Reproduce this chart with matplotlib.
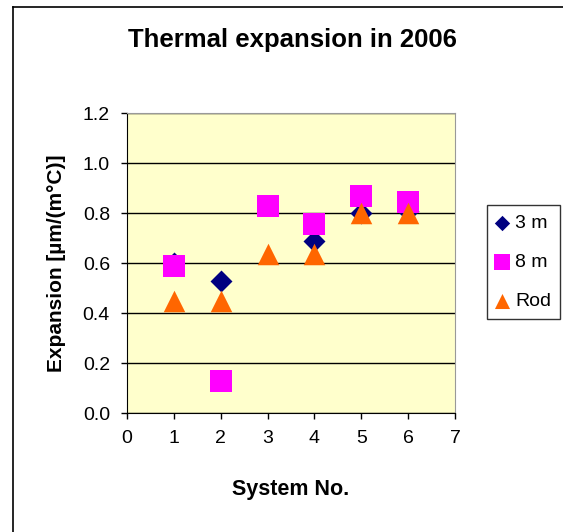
import matplotlib
matplotlib.use("Agg")
import matplotlib.pyplot as plt
from matplotlib.lines import Line2D

plt.rcParams['font.family'] = ['Liberation Sans', 'DejaVu Sans']

# data
systems = [1, 2, 3, 4, 5, 6]
expansion_3m = [0.60, 0.53, None, 0.69, 0.80, 0.81]
expansion_8m = [0.59, 0.13, 0.83, 0.755, 0.87, 0.845]
expansion_rod = [0.45, 0.45, 0.635, 0.635, 0.80, 0.80]
series_names = ['3 m', '8 m', 'Rod']

W, H = 563, 532
fig = plt.figure(figsize=(W / 100, H / 100), dpi=100)

# outer chart border: only left and top edges are inside the picture
fig.add_artist(Line2D([12.5 / W, 12.5 / W], [0, 1 - 7 / H], color='black', lw=1.2,
                      transform=fig.transFigure))
fig.add_artist(Line2D([12.5 / W, 1], [1 - 7 / H, 1 - 7 / H], color='black', lw=1.2,
                      transform=fig.transFigure))

ax = fig.add_axes([127 / W, 1 - 413 / H, (455 - 127) / W, (413 - 113) / H])
ax.set_facecolor('#FFFFCC')

x3 = [s for s, v in zip(systems, expansion_3m) if v is not None]
y3 = [v for v in expansion_3m if v is not None]
ax.scatter(x3, y3, marker='D', s=125, color='#000080', label=series_names[0], zorder=3,
           linewidths=0)
ax.scatter(systems, expansion_8m, marker='s', s=250, color='#FF00FF', label=series_names[1],
           zorder=4, linewidths=0)
ax.scatter(systems, expansion_rod, marker='^', s=240, color='#FF6600', label=series_names[2],
           zorder=5, linewidths=0)

ax.set_xlim(0, 7)
ax.set_ylim(0, 1.2)
ax.set_xticks(range(0, 8))
yticks = [0.0, 0.2, 0.4, 0.6, 0.8, 1.0, 1.2]
ax.set_yticks(yticks)
ax.set_yticklabels([f'{v:.1f}' for v in yticks])
ax.tick_params(axis='both', direction='out', length=4.3, width=1, labelsize=14, pad=8)
ax.grid(axis='y', color='black', linewidth=1)
ax.set_axisbelow(True)

for side in ['top', 'right']:
    ax.spines[side].set_color('#999999')
for side in ['left', 'bottom']:
    ax.spines[side].set_color('black')

fig.text(292 / W, 1 - 47 / H, 'Thermal expansion in 2006', fontsize=18.5, fontweight='bold',
         ha='center', va='baseline')
ax.set_xlabel('System No.', fontsize=15.5, fontweight='bold', labelpad=23)
ax.set_ylabel('Expansion [µm/(m°C)]', fontsize=15, fontweight='bold', labelpad=12)

leg = ax.legend(loc='center left', bbox_to_anchor=(487 / W, 1 - 262 / H),
                bbox_transform=fig.transFigure, frameon=True, fancybox=False,
                edgecolor='black', fontsize=14, markerscale=0.7,
                handletextpad=0.35, handlelength=0.65, borderpad=0.45, labelspacing=1.1,
                borderaxespad=0)
leg.get_frame().set_linewidth(1)

fig.savefig('out.png', dpi=100)
